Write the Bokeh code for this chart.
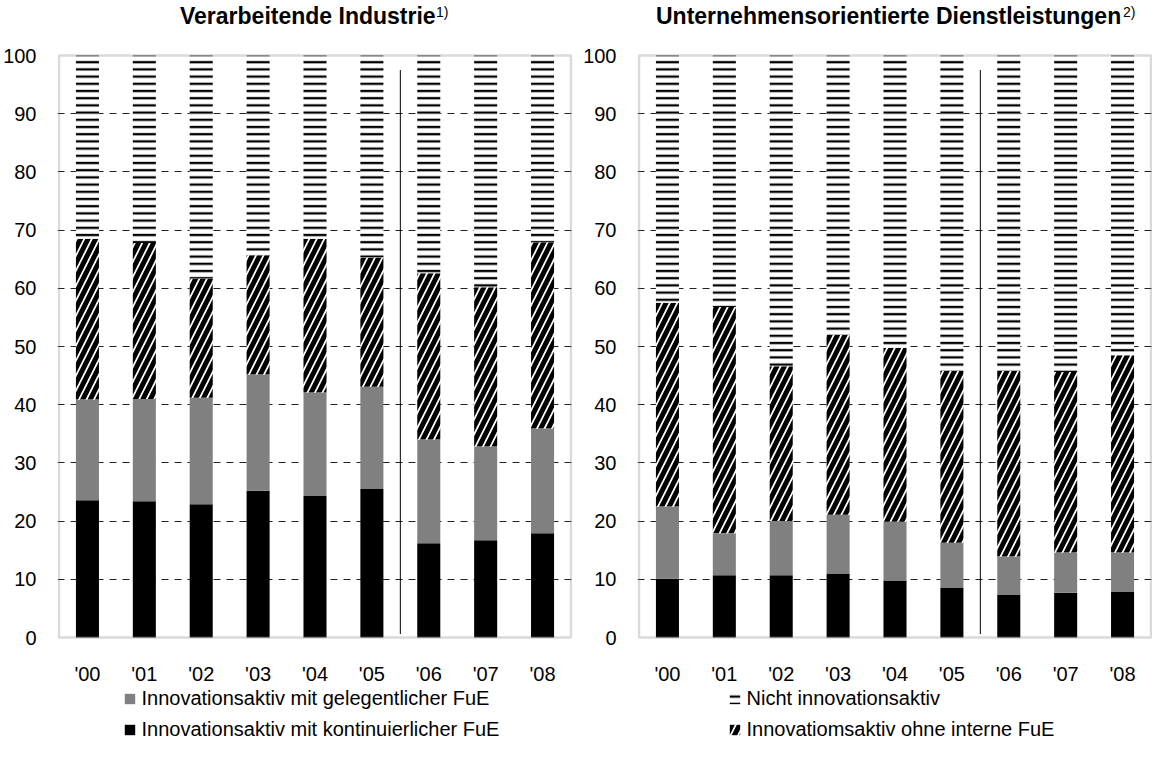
from bokeh.plotting import figure
from bokeh.models import (Range1d, FixedTicker, Label, Legend, LegendItem,
                          ColumnDataSource, BoxAnnotation)
from bokeh.layouts import row
from bokeh.transform import stack
from bokeh.embed import file_html
from bokeh.resources import INLINE

# ---------------- data ----------------
years = ["'00", "'01", "'02", "'03", "'04", "'05", "'06", "'07", "'08"]
break_after = "'05"

# Verarbeitende Industrie (shares in %)
ind_kont = [23.6, 23.4, 22.9, 25.2, 24.3, 25.5, 16.2, 16.7, 17.9]
ind_gel = [17.3, 17.6, 18.3, 20.0, 17.8, 17.6, 17.8, 16.1, 18.0]
ind_ohne = [27.6, 26.8, 20.5, 20.5, 26.4, 22.2, 28.6, 27.4, 32.0]
ind_nicht = [31.5, 32.2, 38.3, 34.3, 31.5, 34.7, 37.4, 39.8, 32.1]

# Unternehmensorientierte Dienstleistungen (shares in %)
dl_kont = [10.1, 10.7, 10.7, 11.0, 9.8, 8.6, 7.4, 7.7, 7.9]
dl_gel = [12.4, 7.2, 9.3, 10.1, 10.1, 7.7, 6.5, 6.9, 6.7]
dl_ohne = [35.0, 38.9, 26.6, 30.9, 29.9, 29.5, 31.9, 31.0, 33.9]
dl_nicht = [42.5, 43.2, 53.4, 48.0, 50.2, 54.2, 54.2, 54.4, 51.5]

y_ticks = [0, 10, 20, 30, 40, 50, 60, 70, 80, 90, 100]

labels = {
    "kont": "Innovationsaktiv mit kontinuierlicher FuE",
    "gel": "Innovationsaktiv mit gelegentlicher FuE",
    "ohne": "Innovatiomsaktiv ohne interne FuE",
    "nicht": "Nicht innovationsaktiv",
}

# ---------------- layout / styling ----------------
FONT = "Liberation Sans"
FIG_H = 741
PX_100 = 582          # pixels between 0 and 100
TOP_PX = 55           # pixels from figure top to the 100 line (title area)
BOT_PX = FIG_H - TOP_PX - PX_100   # pixels below the 0 line (tick labels, legend)
BOX_W = 512           # pixels of the chart box
PAD = 1.5             # px so the border box is not clipped

styles = {
    "kont": dict(fill_color="#000000"),
    "gel": dict(fill_color="#808080"),
    "ohne": dict(fill_color="white", hatch_pattern="/", hatch_color="black",
                 hatch_weight=5, hatch_scale=15),
    "nicht": dict(fill_color="white", hatch_pattern="-", hatch_color="black",
                  hatch_weight=2.3, hatch_scale=7.2),
}


def make_chart(title, note, kont, gel, ohne, nicht, legend_keys,
               border_left, border_right, legend_x, title_w, sup_gap):
    n = len(years)
    px2x = n / BOX_W
    px2y = 100 / PX_100
    xs = list(range(1, n + 1))
    p = figure(frame_width=BOX_W + 3, frame_height=FIG_H,
               output_backend="svg", toolbar_location=None,
               x_range=Range1d(0.5 - PAD * px2x, n + 0.5 + PAD * px2x),
               y_range=Range1d(-BOT_PX * px2y, 100 + TOP_PX * px2y),
               min_border_left=border_left, min_border_right=border_right,
               min_border_top=0, min_border_bottom=0)
    p.background_fill_color = "white"
    p.border_fill_color = "white"
    p.outline_line_color = None

    src = ColumnDataSource(dict(x=xs, kont=kont, gel=gel, ohne=ohne, nicht=nicht))
    keys = ["kont", "gel", "ohne", "nicht"]
    rends = {}
    for i, k in enumerate(keys):
        bottom = 0 if i == 0 else stack(*keys[:i])
        rends[k] = p.vbar(x="x", width=0.405, bottom=bottom, top=stack(*keys[:i + 1]),
                          source=src, line_color=None, **styles[k])

    # break between survey waves
    sep = years.index(break_after) + 1.5
    p.segment(x0=[sep], x1=[sep], y0=[0.6], y1=[97.5], line_color="black", line_width=1)

    # chart box
    p.add_layout(BoxAnnotation(left=0.5, right=n + 0.5, bottom=0, top=100,
                               fill_alpha=0, line_color="#858585", line_width=2.5,
                               level="overlay"))

    # axes
    p.xaxis.fixed_location = 0
    p.xaxis.ticker = FixedTicker(ticks=xs)
    p.xaxis.major_label_overrides = {x: y for x, y in zip(xs, years)}
    p.yaxis.ticker = FixedTicker(ticks=y_ticks)
    for ax in (p.xaxis[0], p.yaxis[0]):
        ax.axis_line_color = None
        ax.major_tick_line_color = None
        ax.minor_tick_line_color = None
        ax.major_label_text_font = FONT
        ax.major_label_text_font_size = "20px"
        ax.major_label_text_color = "black"
    p.xaxis.major_label_standoff = 19
    p.yaxis.major_label_standoff = 15

    p.xgrid.grid_line_color = None
    p.ygrid.ticker = FixedTicker(ticks=y_ticks[1:-1])
    p.ygrid.grid_line_color = "#222222"
    p.ygrid.grid_line_dash = "7 6"
    p.ygrid.grid_line_width = 1

    # title with superscript note (inside the extended frame)
    sup_w = 13
    start_px = BOX_W / 2 - (title_w + sup_w) / 2
    p.add_layout(Label(x=0.5 + start_px * px2x, y=100 + (TOP_PX - 15) * px2y, text=title,
                       text_font=FONT, text_font_size="23px", text_font_style="bold",
                       text_align="left", text_baseline="middle", text_color="black"))
    p.add_layout(Label(x=0.5 + (start_px + title_w + sup_gap) * px2x, y=100 + (TOP_PX - 11) * px2y,
                       text=note, text_font=FONT, text_font_size="14px",
                       text_align="left", text_baseline="middle", text_color="black"))

    legend = Legend(items=[LegendItem(label=labels[k], renderers=[rends[k]]) for k in legend_keys],
                    location=(legend_x + PAD, 0), orientation="vertical",
                    border_line_color=None, background_fill_alpha=0,
                    padding=0, margin=0, spacing=8, label_height=23,
                    glyph_height=13, glyph_width=13, label_standoff=6,
                    label_text_font=FONT, label_text_font_size="20px",
                    label_text_color="black")
    p.add_layout(legend)
    return p


p1 = make_chart("Verarbeitende Industrie", "1)", ind_kont, ind_gel, ind_ohne, ind_nicht,
                ["gel", "kont"], border_left=50, border_right=8,
                legend_x=64, title_w=257, sup_gap=-1)
p2 = make_chart("Unternehmensorientierte Dienstleistungen", "2)", dl_kont, dl_gel, dl_ohne, dl_nicht,
                ["nicht", "ohne"], border_left=55, border_right=0,
                legend_x=89, title_w=465, sup_gap=2)

layout = row(p1, p2, spacing=0)
open("out.html", "w").write(file_html(layout, INLINE))
